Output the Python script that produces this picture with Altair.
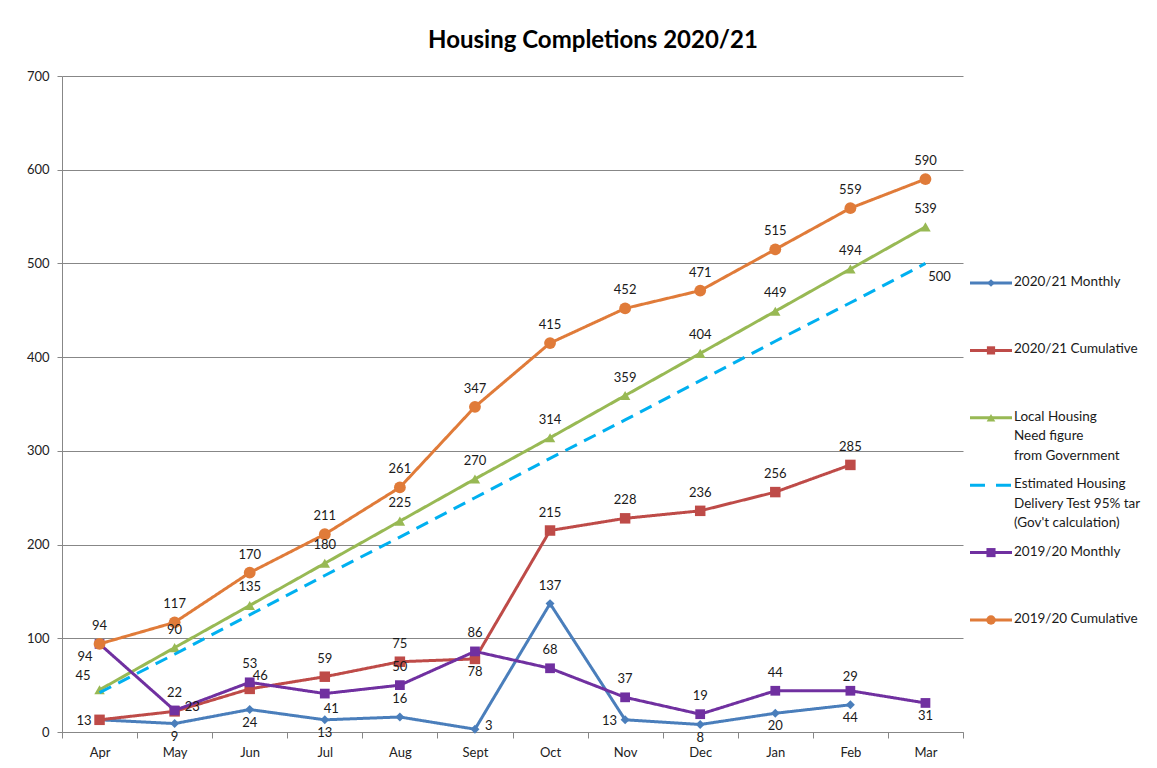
import altair as alt
import pandas as pd

MONTHS = ["Apr", "May", "Jun", "Jul", "Aug", "Sept", "Oct", "Nov", "Dec", "Jan", "Feb", "Mar"]

SERIES = [
    "2020/21 Monthly",
    "2020/21 Cumulative",
    "Local Housing Need figure from Government",
    "Estimated Housing Delivery Test 95% target (Gov't calculation)",
    "2019/20 Monthly",
    "2019/20 Cumulative",
]
LEGEND_TEXT = [
    "2020/21 Monthly",
    "2020/21 Cumulative",
    "Local Housing\nNeed figure\nfrom Government",
    "Estimated Housing\nDelivery Test 95% target\n(Gov't calculation)",
    "2019/20 Monthly",
    "2019/20 Cumulative",
]

monthly_2021 = [13, 9, 24, 13, 16, 3, 137, 13, 8, 20, 29]
cumulative_2021 = [13, 22, 46, 59, 75, 78, 215, 228, 236, 256, 285]
local_need = [45, 90, 135, 180, 225, 270, 314, 359, 404, 449, 494, 539]
hdt_95 = [42, 83, 125, 167, 208, 250, 292, 333, 375, 417, 458, 500]
monthly_1920 = [94, 23, 53, 41, 50, 86, 68, 37, 19, 44, 44, 31]
cumulative_1920 = [94, 117, 170, 211, 261, 347, 415, 452, 471, 515, 559, 590]

VALUES = [monthly_2021, cumulative_2021, local_need, hdt_95, monthly_1920, cumulative_1920]

# label placement codes per point (n = no label)
PLACES = [
    ["n", "b", "b", "b", "a", "r", "a", "l", "b", "b", "A"],
    ["l", "a", "ar", "a", "a", "b", "a", "a", "a", "a", "a"],
    ["al", "a", "a", "a", "a", "a", "a", "a", "a", "a", "a", "a"],
    ["n"] * 11 + ["bx"],
    ["bl", "r", "a", "br", "a", "a", "a", "a", "a", "a", "B", "b"],
    ["a"] * 12,
]
OFFSETS = {
    "a": ("center", 0, -18),
    "b": ("center", 0, 13),
    "l": ("right", -8, 1),
    "r": ("left", 10, -3),
    "al": ("right", -9, -14),
    "bl": ("right", -7, 13),
    "ar": ("left", 3, -13),
    "br": ("left", -1, 15),
    "bx": ("center", 14, 14),
    "A": ("center", 0, -28),
    "B": ("center", 0, 27),
}

COLORS = ["#4A7EBB", "#BE4B48", "#98B954", "#00B0F0", "#7030A0", "#E07B39"]
SHAPES = ["diamond", "square", "triangle-up", None, "square", "circle"]
SIZES = [80, 110, 110, 0, 95, 140]
DASHES = [[1, 0], [1, 0], [1, 0], [13, 8], [1, 0], [1, 0]]

rows = []
for s, vals, places in zip(SERIES, VALUES, PLACES):
    for i, v in enumerate(vals):
        rows.append({"series": s, "month": MONTHS[i], "idx": i, "value": v, "pos": places[i]})
df = pd.DataFrame(rows)

FONT = "Lato"
GRAY = "#878787"
W, H = 901, 656

month_js = "[" + ",".join("'" + m + "'" for m in MONTHS) + "]"

x_enc = alt.X(
    "idx:Q",
    scale=alt.Scale(domain=[-0.5, len(MONTHS) - 0.5], nice=False, zero=False),
    axis=alt.Axis(
        title=None,
        values=[i - 0.5 for i in range(len(MONTHS) + 1)],
        labelExpr=month_js + "[datum.value - 0.5] || ''",
        labelOffset=-W / len(MONTHS) / 2,
        labelFlush=False,
        labelOverlap=False,
        labelBound=False,
        grid=False,
        tickSize=6,
        tickColor=GRAY,
        domainColor=GRAY,
        labelPadding=8,
        labelFontSize=13,
        labelFont=FONT,
        labelColor="#222222",
    ),
)
y_enc = alt.Y(
    "value:Q",
    scale=alt.Scale(domain=[0, 700], nice=False),
    axis=alt.Axis(
        title=None,
        values=list(range(0, 701, 100)),
        grid=True,
        gridColor=GRAY,
        tickSize=5,
        tickColor=GRAY,
        domainColor=GRAY,
        labelPadding=8,
        labelFontSize=13,
        labelFont=FONT,
        labelColor="#222222",
        minExtent=49,
    ),
)

layers = []
for s, color, shape, size, dash in zip(SERIES, COLORS, SHAPES, SIZES, DASHES):
    base = alt.Chart(df).transform_filter(alt.datum.series == s)
    layers.append(
        base.mark_line(color=color, strokeWidth=3, strokeDash=dash).encode(x=x_enc, y=y_enc)
    )
    if shape:
        layers.append(
            base.mark_point(filled=True, opacity=1, color=color, shape=shape, size=size).encode(
                x=x_enc, y=y_enc
            )
        )

for code, (align, dx, dy) in OFFSETS.items():
    layers.append(
        alt.Chart(df)
        .transform_filter(alt.datum.pos == code)
        .mark_text(align=align, baseline="middle", dx=dx, dy=dy, fontSize=13, font=FONT, color="#1a1a1a")
        .encode(x=x_enc, y=y_enc, text="value:Q")
    )

main = alt.layer(*layers).properties(width=W, height=H)

# legend panel
leg_df = pd.DataFrame({"name": SERIES, "text": LEGEND_TEXT})
y_leg = alt.Y(
    "name:N",
    scale=alt.Scale(type="point", domain=SERIES, range=[207, 544], padding=0),
    axis=None,
)
col_leg = alt.Color("name:N", scale=alt.Scale(domain=SERIES, range=COLORS), legend=None)
leg_rule = alt.Chart(leg_df).mark_rule(strokeWidth=3).encode(
    y=y_leg,
    x=alt.value(0),
    x2=alt.value(42),
    color=col_leg,
    strokeDash=alt.StrokeDash("name:N", scale=alt.Scale(domain=SERIES, range=[[1, 0], [1, 0], [1, 0], [15, 11], [1, 0], [1, 0]]), legend=None),
)
marker_series = [s for s, sh in zip(SERIES, SHAPES) if sh]
leg_pts = (
    alt.Chart(leg_df)
    .transform_filter(alt.FieldOneOfPredicate(field="name", oneOf=marker_series))
    .mark_point(filled=True, opacity=1)
    .encode(
        y=y_leg,
        x=alt.value(21),
        color=col_leg,
        shape=alt.Shape("name:N", scale=alt.Scale(domain=marker_series, range=[sh for sh in SHAPES if sh]), legend=None),
        size=alt.Size("name:N", scale=alt.Scale(domain=marker_series, range=[60, 90, 90, 80, 110]), legend=None),
    )
)
leg_txt = alt.Chart(leg_df).mark_text(
    align="left", baseline="top", dy=-8, lineBreak="\n", lineHeight=19.5,
    fontSize=13.5, font=FONT, color="#1a1a1a", limit=134, ellipsis=" ",
).encode(y=y_leg, x=alt.value(44), text="text:N")

legend = alt.layer(leg_rule, leg_pts, leg_txt).properties(width=175, height=H)

chart = (
    alt.hconcat(main, legend, spacing=4)
    .properties(
        title=alt.TitleParams(
            "Housing Completions 2020/21",
            fontSize=24,
            font=FONT,
            fontWeight="bold",
            color="#000000",
            anchor="middle",
            dx=14,
            offset=17,
        ),
        padding={"left": 5, "top": 21, "right": 0, "bottom": 0},
    )
    .configure_view(stroke=None)
)

chart.save("out.html", embed_options={"renderer": "svg", "actions": False})
